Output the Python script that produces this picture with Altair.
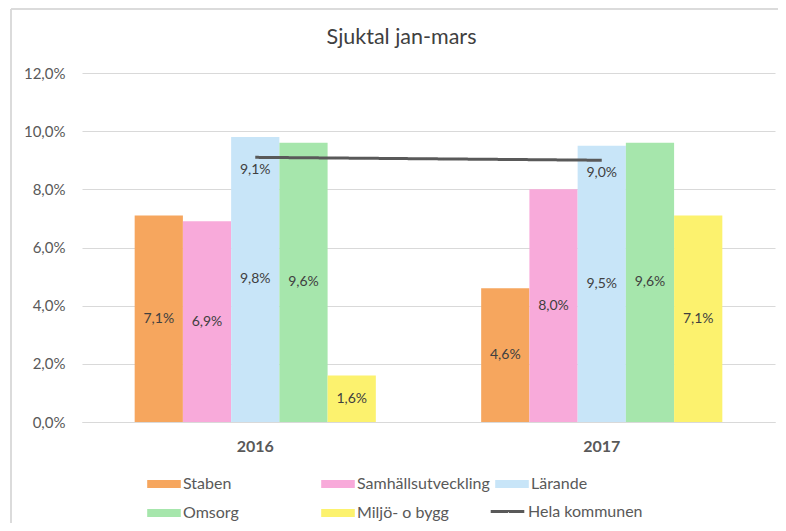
import altair as alt
import pandas as pd

years = ["2016", "2017"]
series = ["Staben", "Samhällsutveckling", "Lärande", "Omsorg", "Miljö- o bygg"]
values_2016 = [0.071, 0.069, 0.098, 0.096, 0.016]
values_2017 = [0.046, 0.080, 0.095, 0.096, 0.071]
total_name = "Hela kommunen"
total_values = [0.091, 0.090]
colors = ["#F6A65E", "#F8AADA", "#C8E5F8", "#A6E6AC", "#FCF26E"]
line_color = "#595959"
y_ticks = [0, 0.02, 0.04, 0.06, 0.08, 0.10, 0.12]

rows = []
for yr, vals in zip(years, [values_2016, values_2017]):
    for s, v in zip(series, vals):
        rows.append({"year": yr, "series": s, "value": v})
bars_df = pd.DataFrame(rows)
line_df = pd.DataFrame({"year": years, "value": total_values, "series": [total_name] * 2})

FONT = "Lato"
GREY = "#595959"

x_enc = alt.X(
    "year:N",
    sort=years,
    scale=alt.Scale(paddingInner=0.304, paddingOuter=0.152),
    axis=alt.Axis(title=None, labelAngle=0, labelFontWeight="bold", labelFontSize=16,
                  labelColor=GREY, labelFont=FONT, ticks=False, domain=True,
                  domainColor="#D9D9D9", labelPadding=16),
)
y_scale = alt.Scale(domain=[0, 0.12], nice=False)
y_enc = alt.Y(
    "value:Q",
    scale=y_scale,
    axis=alt.Axis(title=None, values=y_ticks, labelExpr="replace(format(datum.value, '.1%'), '.', ',')",
                  labelFontSize=15, labelColor=GREY, labelFont=FONT, ticks=False, domain=False,
                  gridColor="#D9D9D9", labelPadding=17),
)
color_enc = alt.Color(
    "series:N",
    scale=alt.Scale(domain=series, range=colors),
    legend=alt.Legend(
        title=None, orient="none", legendX=68, legendY=397, columns=3, direction="horizontal",
        gridAlign="all", columnPadding=5, rowPadding=7, padding=0,
        labelFontSize=16, labelColor=GREY, labelFont=FONT, labelOffset=5,
        symbolSize=784, symbolOffset=0, symbolType="M-1.2,-0.28H1.2V0.28H-1.2Z",
        symbolStrokeWidth=0,
    ),
)

xoff = alt.XOffset("series:N", sort=series, scale=alt.Scale(paddingInner=0, paddingOuter=0))

bars = alt.Chart(bars_df).mark_bar().encode(x=x_enc, xOffset=xoff, y=y_enc, color=color_enc)

bar_labels = alt.Chart(bars_df).transform_calculate(
    mid="datum.value / 2",
    label="replace(format(datum.value, '.1%'), '.', ',')",
).mark_text(font=FONT, fontSize=14, color="#404040", baseline="middle").encode(
    x=alt.X("year:N", sort=years),
    xOffset=xoff,
    y=alt.Y("mid:Q", scale=y_scale),
    text="label:N",
)

line = alt.Chart(line_df).mark_line(strokeWidth=3, color=line_color).encode(
    x=alt.X("year:N", sort=years),
    y=alt.Y("value:Q", scale=y_scale),
    strokeDash=alt.StrokeDash(
        "series:N",
        scale=alt.Scale(domain=[total_name], range=[[1, 0]]),
        legend=alt.Legend(
            title=None, orient="none", legendX=410, legendY=423, padding=0,
            labelFontSize=16, labelColor=GREY, labelFont=FONT, labelOffset=5,
            symbolSize=784, symbolOffset=0, symbolType="M-1.2,0H1.2",
            symbolStrokeColor=line_color, symbolStrokeWidth=3,
        ),
    ),
)

line_labels = alt.Chart(line_df).transform_calculate(
    label="replace(format(datum.value, '.1%'), '.', ',')"
).mark_text(font=FONT, fontSize=14, color="#404040", baseline="middle", dy=13).encode(
    x=alt.X("year:N", sort=years), y=alt.Y("value:Q", scale=y_scale), text="label:N"
)

border_top = alt.Chart(line_df).mark_rule(color="#D9D9D9", strokeWidth=1.5).encode(
    x=alt.value(-71), x2=alt.value(720), y=alt.value(-64)
)
border_left = alt.Chart(line_df).mark_rule(color="#D9D9D9", strokeWidth=1.5).encode(
    x=alt.value(-71), y=alt.value(-64), y2=alt.value(470)
)

chart = alt.layer(border_top, border_left, bars, bar_labels, line, line_labels).properties(
    width=693,
    height=349,
    title=alt.TitleParams("Sjuktal jan-mars", font=FONT, fontSize=21.5, fontWeight="normal",
                          color="#404040", anchor="middle", dx=-27, offset=-40),
    autosize=alt.AutoSizeParams(type="none"),
    padding={"left": 74, "top": 65, "right": 3, "bottom": 101},
).configure_view(stroke=None)

chart.save("out.html", embed_options={"renderer": "svg", "actions": False})
